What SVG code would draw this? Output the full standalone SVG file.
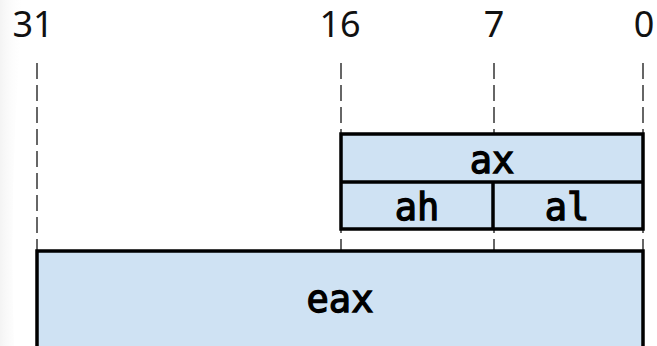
<svg xmlns="http://www.w3.org/2000/svg" width="657" height="346" viewBox="0 0 657 346">
<style>
.num{font-family:"Noto Sans","Open Sans",sans-serif;font-size:36px;fill:#111;text-anchor:middle}
.lbl{font-family:"DejaVu Sans Mono",monospace;font-size:37px;fill:#000;stroke:#000;stroke-width:1.3;text-anchor:middle}
.box{fill:#cfe2f3;stroke:#000;stroke-width:3.5}
.div{stroke:#000;stroke-width:3.5;fill:none}
.guide{stroke:#666;stroke-width:2;stroke-dasharray:16 6;fill:none}
</style>
<defs>
<linearGradient id="shade" x1="0" y1="0" x2="1" y2="0">
<stop offset="0" stop-color="#ececec"/>
<stop offset="1" stop-color="#ffffff" stop-opacity="0"/>
</linearGradient>
</defs>
<rect width="657" height="346" fill="#fff"/>
<path d="M0,0 L24,0 Q8,170 14,346 L0,346 Z" fill="url(#shade)" opacity="0.6"/>
<g id="bit-labels">
<text class="num" x="33" y="37">31</text>
<text class="num" x="340" y="37">16</text>
<text class="num" x="494" y="37">7</text>
<text class="num" x="644" y="37">0</text>
</g>
<g id="connectors">
<line class="guide" x1="37" y1="63" x2="37" y2="251"/>
<line class="guide" x1="341" y1="63" x2="341" y2="251"/>
<line class="guide" x1="494" y1="63" x2="494" y2="251"/>
<line class="guide" x1="643" y1="63" x2="643" y2="251"/>
</g>
<g id="ax">
<rect class="box" x="341" y="134" width="302" height="95"/>
<line class="div" x1="341" y1="182" x2="643" y2="182"/>
<text class="lbl" x="492" y="173">ax</text>
</g>
<g id="ah">
<line class="div" x1="493" y1="182" x2="493" y2="229"/>
<text class="lbl" x="417" y="220">ah</text>
</g>
<g id="al">
<text class="lbl" x="567" y="220">al</text>
</g>
<g id="eax">
<rect class="box" x="37" y="251" width="606" height="110"/>
<text class="lbl" x="340" y="312">eax</text>
</g>
</svg>
